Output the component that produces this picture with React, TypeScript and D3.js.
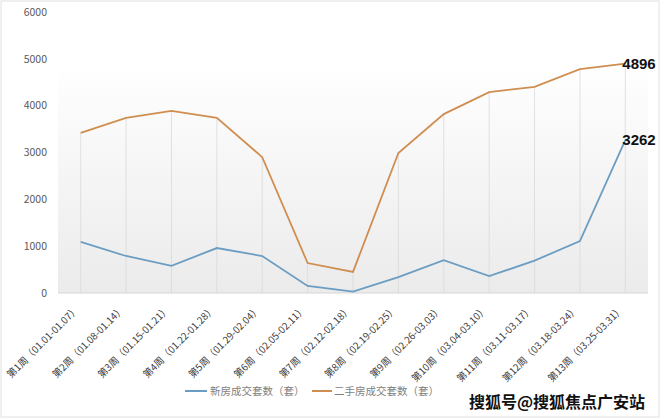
import React from 'react';
import * as d3 from 'd3';

const weeks = [
    '第1周（01.01-01.07）',
    '第2周（01.08-01.14）',
    '第3周（01.15-01.21）',
    '第4周（01.22-01.28）',
    '第5周（01.29-02.04）',
    '第6周（02.05-02.11）',
    '第7周（02.12-02.18）',
    '第8周（02.19-02.25）',
    '第9周（02.26-03.03）',
    '第10周（03.04-03.10）',
    '第11周（03.11-03.17）',
    '第12周（03.18-03.24）',
    '第13周（03.25-03.31）',
];
const newHomes = [1090, 790, 580, 960, 790, 150, 30, 340, 700, 360, 690, 1110, 3262];
const resaleHomes = [3420, 3740, 3890, 3740, 2900, 640, 450, 2990, 3820, 4290, 4400, 4780, 4896];
const yTicks = [0, 1000, 2000, 3000, 4000, 5000, 6000];
const seriesNames = ['新房成交套数（套）', '二手房成交套数（套）'];

const W = 660;
const H = 420;
const left = 58;
const right = 648;
const top = 12;
const bottom = 293;
const blue = '#6b9dc2';
const orange = '#cf8e50';

const App = () => {
    const x = d3.scalePoint<string>().domain(weeks).range([left, right]).padding(0.5);
    const y = d3.scaleLinear().domain([0, 6000]).range([bottom, top]);

    const line = d3
        .line<number>()
        .x((_, i) => x(weeks[i])!)
        .y((d) => y(d));

    const lastX = x(weeks[weeks.length - 1])!;
    const font = '"Microsoft YaHei", "Noto Sans CJK SC", sans-serif';
    const labelFont = "'Liberation Sans', Arial, sans-serif";

    return (
        <svg width={W} height={H} style={{ position: 'absolute', left: 0, top: 0 }} fontFamily={font}>
            <defs>
                <linearGradient id="bg" x1="0" y1="0" x2="0" y2="1">
                    <stop offset="0%" stopColor="#ffffff" />
                    <stop offset="18%" stopColor="#ffffff" />
                    <stop offset="100%" stopColor="#ebebeb" />
                </linearGradient>
            </defs>
            <rect x={0} y={0} width={W} height={H} fill="#fff" />
            <rect x={1} y={1} width={W - 2} height={H - 4} fill="none" stroke="#e0e0e0" />
            <rect x={left} y={top} width={right - left} height={bottom - top} fill="url(#bg)" />

            {/* y axis labels */}
            {yTicks.map((t) => (
                <text key={t} x={47} y={y(t)} dy="0.35em" textAnchor="end" fontSize={10.5} fill="#595959">
                    {t}
                </text>
            ))}

            {/* drop lines */}
            {resaleHomes.map((v, i) => (
                <line
                    key={i}
                    x1={x(weeks[i])}
                    x2={x(weeks[i])}
                    y1={y(v)}
                    y2={bottom}
                    stroke="#d9d9d9"
                    strokeWidth={0.8}
                />
            ))}
            <line x1={left} x2={right} y1={bottom} y2={bottom} stroke="#d6d6d6" />

            <path d={line(resaleHomes)!} fill="none" stroke={orange} strokeWidth={1.8} />
            <path d={line(newHomes)!} fill="none" stroke={blue} strokeWidth={1.8} />

            <text x={lastX - 3} y={y(resaleHomes[12])} dy="0.35em" fontSize={15} fontWeight="bold" fill="#111" fontFamily={labelFont}>
                {resaleHomes[12]}
            </text>
            <text x={lastX - 3} y={y(newHomes[12])} dy="0.35em" fontSize={15} fontWeight="bold" fill="#111" fontFamily={labelFont}>
                {newHomes[12]}
            </text>

            {/* x labels */}
            {weeks.map((w) => (
                <text
                    key={w}
                    transform={`translate(${x(w)! - 1},${bottom + 17}) rotate(-45)`}
                    textAnchor="end"
                    fontSize={9.8}
                    fill="#404040"
                >
                    {w}
                </text>
            ))}

            {/* legend */}
            <line x1={185} x2={207} y1={391} y2={391} stroke={blue} strokeWidth={2} />
            <text x={210} y={391} dy="0.35em" fontSize={10.5} fill="#7f7f7f">
                {seriesNames[0]}
            </text>
            <line x1={312} x2={332} y1={391} y2={391} stroke={orange} strokeWidth={2} />
            <text x={334} y={391} dy="0.35em" fontSize={10.5} fill="#7f7f7f">
                {seriesNames[1]}
            </text>

            {/* watermark */}
            <text
                x={645}
                y={402}
                dy="0.35em"
                textAnchor="end"
                fontSize={16}
                fontWeight="bold"
                fill="#111"
                stroke="#fff"
                strokeWidth={0.6}
                paintOrder="stroke"
            >
                搜狐号@搜狐焦点广安站
            </text>
        </svg>
    );
};

export default App;
